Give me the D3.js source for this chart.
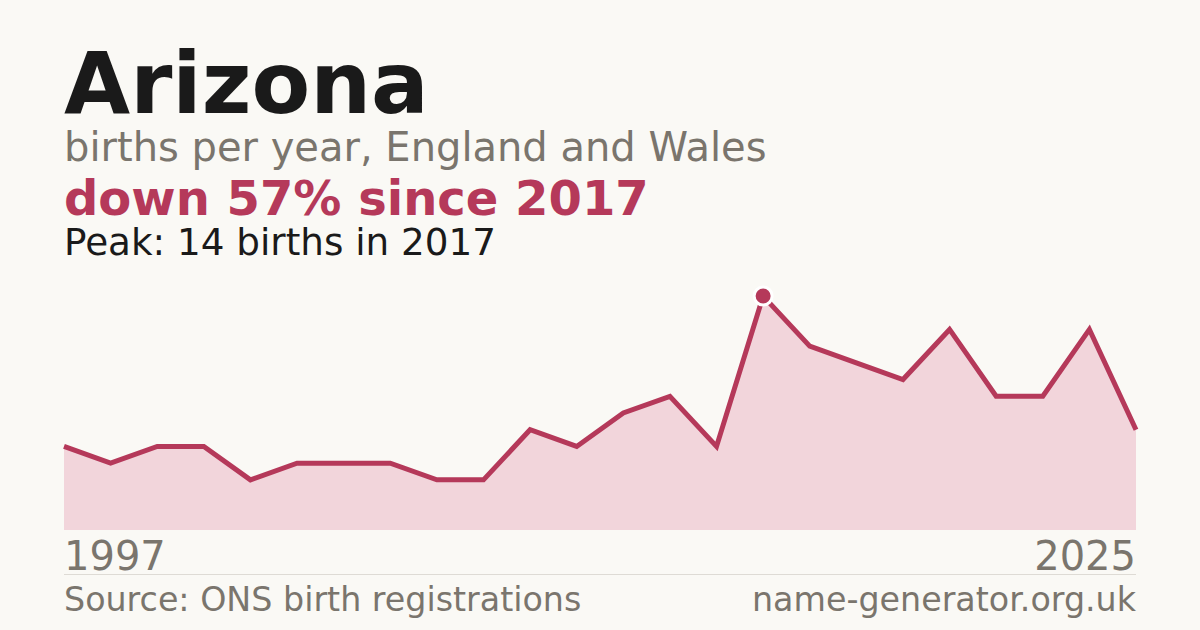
<!DOCTYPE html>
<html>
<head>
<meta charset="utf-8">
<script src="https://cdn.jsdelivr.net/npm/d3@7"></script>
<style>
  html, body { margin: 0; padding: 0; background: #faf9f5; }
  svg { display: block; font-family: "DejaVu Sans", sans-serif; }
</style>
</head>
<body>
<svg id="chart" width="1200" height="630"></svg>
<script>
// years with a registered count (others suppressed / absent)
const years = [1997, 1998, 2000, 2001, 2003, 2004, 2005, 2007, 2008, 2010, 2011, 2012,
               2013, 2015, 2016, 2017, 2018, 2019, 2020, 2021, 2022, 2023, 2024, 2025];
const births = [5, 4, 5, 5, 3, 4, 4, 4, 3, 3, 6, 5, 7, 8, 5, 14, 11, 10, 9, 12, 8, 8, 12, 6];
const endLabels = ["1997", "2025"];

const name = "Arizona";
const subtitle = "births per year, England and Wales";
const source = "Source: ONS birth registrations";
const site = "name-generator.org.uk";

const red = "#b5395a";
const grey = "#7a756d";

const svg = d3.select("#chart");
svg.append("rect").attr("width", 1200).attr("height", 630).attr("fill", "#faf9f5");

const left = 64, right = 1136, bottom = 530;

const data = years.map((y, i) => ({ year: y, value: births[i] }));
const peak = data.reduce((a, b) => (b.value > a.value ? b : a));
const last = data[data.length - 1];
const change = Math.round((1 - last.value / peak.value) * 100);

const x = d3.scalePoint().domain(years).range([left, right]);
const y = d3.scaleLinear().domain([0, peak.value]).range([bottom, 296]);

// headings
svg.append("text").attr("x", left).attr("y", 113)
    .attr("font-size", 85.5).attr("font-weight", "bold").attr("fill", "#1a1a1a")
    .text(name);
svg.append("text").attr("x", left).attr("y", 161)
    .attr("font-size", 40).attr("fill", grey)
    .text(subtitle);
svg.append("text").attr("x", left).attr("y", 215)
    .attr("font-size", 48).attr("font-weight", "bold").attr("fill", red)
    .text(`down ${change}% since ${peak.year}`);
svg.append("text").attr("x", left).attr("y", 255)
    .attr("font-size", 37.3).attr("fill", "#1a1a1a")
    .text(`Peak: ${peak.value} births in ${peak.year}`);

// area + line
svg.append("path")
    .datum(data)
    .attr("fill", "#f2d5db")
    .attr("d", d3.area()
        .x(d => x(d.year))
        .y0(y(0))
        .y1(d => y(d.value)));

svg.append("path")
    .datum(data)
    .attr("fill", "none")
    .attr("stroke", red)
    .attr("stroke-width", 5)
    .attr("stroke-linejoin", "miter")
    .attr("d", d3.line()
        .x(d => x(d.year))
        .y(d => y(d.value)));

// peak marker
svg.append("circle")
    .attr("cx", x(peak.year))
    .attr("cy", y(peak.value))
    .attr("r", 9)
    .attr("fill", red)
    .attr("stroke", "#fff")
    .attr("stroke-width", 3);

// end year labels
svg.append("text").attr("x", left).attr("y", 570)
    .attr("font-size", 40).attr("fill", grey)
    .text(endLabels[0]);
svg.append("text").attr("x", right).attr("y", 570)
    .attr("font-size", 40).attr("fill", grey).attr("text-anchor", "end")
    .text(endLabels[1]);

// separator
svg.append("line")
    .attr("x1", left).attr("x2", right)
    .attr("y1", 574.5).attr("y2", 574.5)
    .attr("stroke", "#dedbd5").attr("stroke-width", 1);

// footer
svg.append("text").attr("x", left).attr("y", 611)
    .attr("font-size", 33.3).attr("fill", grey)
    .text(source);
svg.append("text").attr("x", right).attr("y", 611)
    .attr("font-size", 33.3).attr("fill", grey).attr("text-anchor", "end")
    .text(site);
</script>
</body>
</html>
